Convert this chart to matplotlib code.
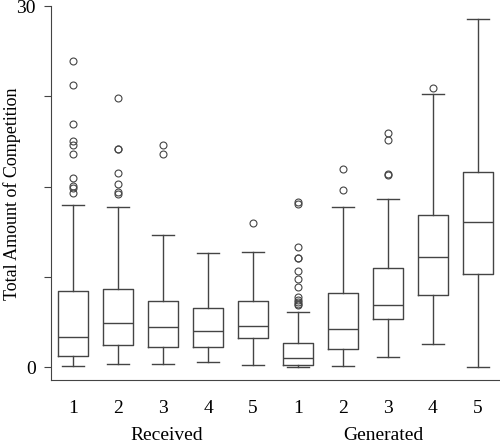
import numpy as np
import matplotlib
matplotlib.use('Agg')
import matplotlib.pyplot as plt

# box statistics (whislo, q1, median, q3, whishi)
groups = ['Received', 'Generated']
levels = ['1', '2', '3', '4', '5']
whislo = [0.08, 0.22, 0.22, 0.39, 0.14, 0.0, 0.06, 0.8, 1.89, 0.0]
q1 = [0.9, 1.85, 1.64, 1.69, 2.38, 0.17, 1.47, 3.96, 5.96, 7.73]
med = [2.5, 3.7, 3.3, 2.97, 3.38, 0.77, 3.2, 5.13, 9.12, 12.03]
q3 = [6.3, 6.46, 5.49, 4.88, 5.46, 1.97, 6.2, 8.25, 12.63, 16.23]
whishi = [13.5, 13.27, 10.95, 9.45, 9.53, 4.6, 13.33, 13.94, 22.67, 28.9]
fliers = [
    [25.46, 23.44, 20.22, 18.81, 18.43, 17.68, 15.74, 15.07, 14.9, 14.44],
    [22.39, 18.12, 18.1, 16.15, 15.19, 14.57, 14.38],
    [18.43, 17.68],
    [],
    [12.0],
    [13.55, 13.7, 10.0, 9.04, 9.1, 7.98, 7.29, 6.68, 5.85, 5.6, 5.4, 5.25, 5.15],
    [16.43, 14.69],
    [19.43, 18.87, 16.04, 16.0],
    [23.16],
    [],
]

stats = []
for i in range(len(med)):
    stats.append(dict(whislo=whislo[i], q1=q1[i], med=med[i], q3=q3[i],
                      whishi=whishi[i], fliers=fliers[i]))

plt.rcParams['font.family'] = 'Liberation Serif'
fig = plt.figure(figsize=(5, 4.43), dpi=100)
ax = fig.add_axes([0.102, 0.142, 0.898, 0.844])

col = '#444444'
pos = np.arange(1, len(med) + 1)
ax.bxp(stats, positions=pos, widths=0.67, showcaps=True,
       boxprops=dict(color=col, linewidth=1),
       whiskerprops=dict(color=col, linewidth=1, linestyle='-'),
       capprops=dict(color=col, linewidth=1),
       medianprops=dict(color=col, linewidth=1),
       flierprops=dict(marker='o', markerfacecolor='none', markeredgecolor=col,
                       markersize=5, markeredgewidth=0.8),
       capwidths=0.5)

ax.set_xlim(0.51, 10.49)
ax.set_ylim(-1.08, 30)
ax.spines['top'].set_visible(False)
ax.spines['right'].set_visible(False)
ax.spines['left'].set_color(col)
ax.spines['bottom'].set_color(col)

ax.set_yticks([0, 7.5, 15, 22.5, 30])
ax.set_yticklabels(['0', '', '', '', '30'])
ax.set_xticks(pos)
ax.set_xticklabels(levels * 2)
ax.tick_params(axis='x', length=0, pad=14, labelsize=14)
ax.tick_params(axis='y', length=5, color=col, labelsize=14, pad=6)

ax.text(3.08, -6.1, groups[0], ha='center', va='baseline', fontsize=14)
ax.text(7.9, -6.1, groups[1], ha='center', va='baseline', fontsize=14)
fig.text(12 / 500, 1 - 194 / 443, 'Total Amount of Competition', rotation=90,
         ha='center', va='center', fontsize=13)

fig.savefig('out.png', dpi=100)
